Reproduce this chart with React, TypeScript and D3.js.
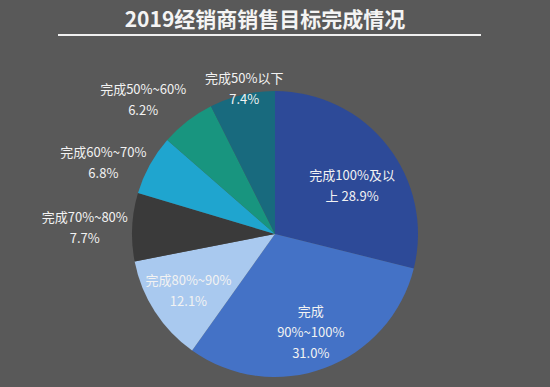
import React from 'react';
import * as d3 from 'd3';

const categories = ['完成100%及以上', '完成90%~100%', '完成80%~90%', '完成70%~80%', '完成60%~70%', '完成50%~60%', '完成50%以下'];
const values = [28.9, 31.0, 12.1, 7.7, 6.8, 6.2, 7.4];
const labelLines = [
  ['完成100%及以', '上 28.9%'],
  ['完成', '90%~100%', '31.0%'],
  ['完成80%~90%', '12.1%'],
  ['完成70%~80%', '7.7%'],
  ['完成60%~70%', '6.8%'],
  ['完成50%~60%', '6.2%'],
  ['完成50%以下', '7.4%'],
];
const colors = ['#2d4a98', '#4472c6', '#a9c9ef', '#3a3a3a', '#1fa5cf', '#18957f', '#186a7e'];
const outside = [false, false, false, true, true, true, true];

const W = 550;
const H = 387;
const cx = 275;
const cy = 234;
const R = 143;
const FONT = '"Noto Sans CJK SC", "Noto Sans", sans-serif';
const FS = 13;

// rough text width: CJK full width, latin ~0.56em
const textWidth = (s: string) =>
  Array.from(s).reduce((w, ch) => w + (/[\u3000-\u9fff]/.test(ch) ? FS : FS * 0.58), 0);

const App: React.FC = () => {
  const pie = d3.pie<number>().sort(null).value(d => d).startAngle(0).endAngle(2 * Math.PI);
  const arcs = pie(values);
  const arc = d3.arc<d3.PieArcDatum<number>>().innerRadius(0).outerRadius(R);
  const inArc = d3.arc<d3.PieArcDatum<number>>().innerRadius(R * 0.72).outerRadius(R * 0.72);
  const outArc = d3.arc<d3.PieArcDatum<number>>().innerRadius(R + 8).outerRadius(R + 8);
  const lineH = 21;

  return (
    <svg width={W} height={H} style={{ display: 'block', background: '#595959' }}>
      <style>{`body{margin:0}`}</style>
      <rect width={W} height={H} fill="#595959" />
      <text x={265} y={27} textAnchor="middle" fill="#f4f4f4" fontSize={21} fontWeight="bold" fontFamily={FONT}>
        2019经销商销售目标完成情况
      </text>
      <line x1={58} x2={481} y1={35} y2={35} stroke="#f0f0f0" strokeWidth={2} />
      <g transform={`translate(${cx},${cy})`}>
        {arcs.map((a, i) => (
          <path key={categories[i]} d={arc(a) ?? ''} fill={colors[i]} />
        ))}
        {arcs.map((a, i) => {
          const lines = labelLines[i];
          const mid = (a.startAngle + a.endAngle) / 2;
          let [x, y] = outside[i] ? outArc.centroid(a) : inArc.centroid(a);
          let y0 = y - ((lines.length - 1) * lineH) / 2;
          if (outside[i]) {
            const deg = (mid * 180) / Math.PI;
            const half = d3.max(lines, textWidth)! / 2;
            if (deg < 340) x -= half;
            else x += 4;
            if (deg > 300 && deg < 340) y0 = y - (lines.length - 1) * lineH - 6;
          } else if (i === 0) {
            y0 += 14;
            x -= 4;
          }
          return (
            <text key={categories[i]} x={x} y={y0} textAnchor="middle" fill="#f2f2f2" fontSize={FS} fontFamily={FONT} dominantBaseline="central">
              {lines.map((l, j) => (
                <tspan key={j} x={x} y={y0 + j * lineH}>{l}</tspan>
              ))}
            </text>
          );
        })}
      </g>
    </svg>
  );
};

export default App;
